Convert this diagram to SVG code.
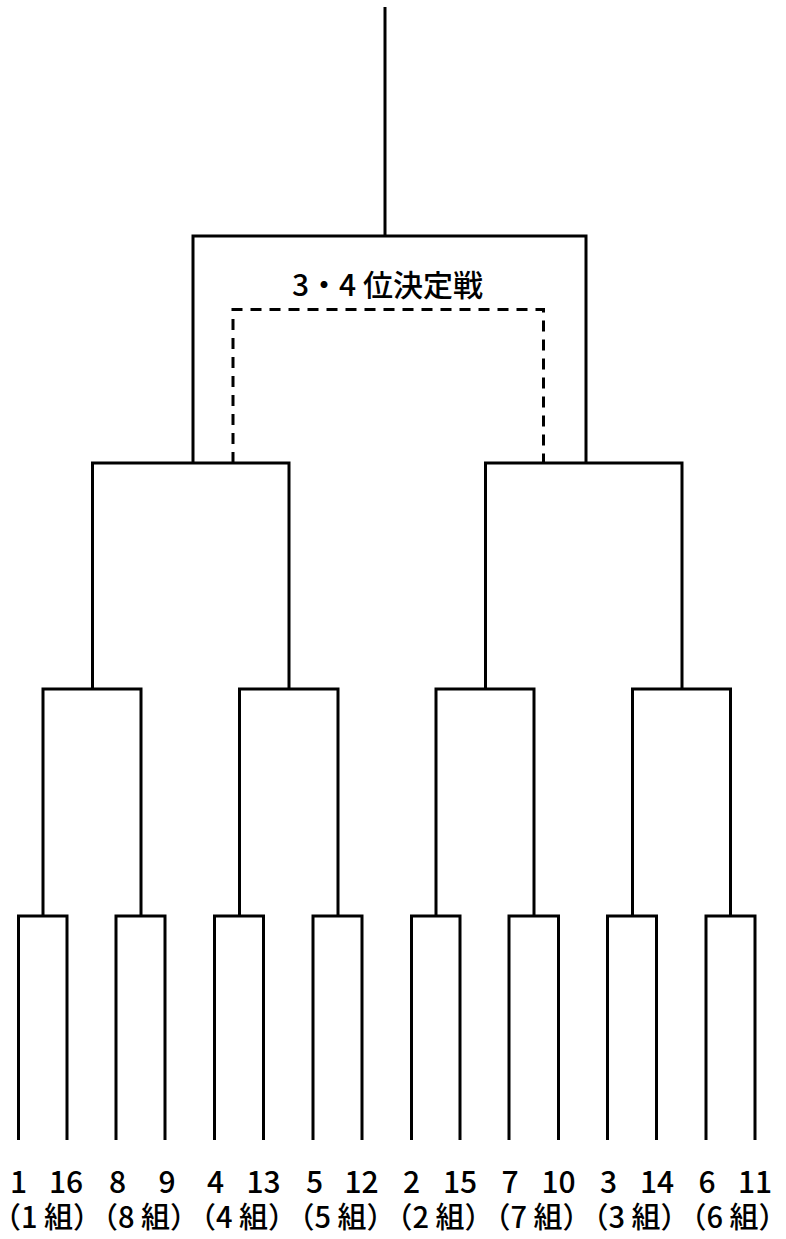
<svg xmlns="http://www.w3.org/2000/svg" width="786" height="1239" viewBox="0 0 786 1239">
<style>
.ln{fill:none;stroke:#000;stroke-width:3;stroke-linejoin:miter;stroke-linecap:butt}
.dash{fill:none;stroke:#000;stroke-width:3;stroke-dasharray:11 8}
text{font-family:"Noto Sans CJK JP","Noto Sans",sans-serif;font-weight:500;fill:#000;text-anchor:middle}
.num{font-size:30px}
.grp{font-size:29px}
.ttl{font-size:30px}
</style>
<rect width="786" height="1239" fill="#fff"/>
<g id="connectors">
<path class="ln" d="M385,7 V236"/>
<path class="ln" d="M193,463 V236 H586 V463"/>
<path class="ln" d="M92.5,689 V463 H289 V689"/>
<path class="ln" d="M485.5,689 V463 H682 V689"/>
<path class="ln" d="M43,916 V689 H141 V916"/>
<path class="ln" d="M239.5,916 V689 H338 V916"/>
<path class="ln" d="M436,916 V689 H534 V916"/>
<path class="ln" d="M632.5,916 V689 H730.5 V916"/>
<path class="ln" d="M18.5,1140 V916 H67 V1140"/>
<path class="ln" d="M116,1140 V916 H165 V1140"/>
<path class="ln" d="M214.5,1140 V916 H263.5 V1140"/>
<path class="ln" d="M313,1140 V916 H362 V1140"/>
<path class="ln" d="M411.5,1140 V916 H460 V1140"/>
<path class="ln" d="M509,1140 V916 H558.5 V1140"/>
<path class="ln" d="M607.5,1140 V916 H656.5 V1140"/>
<path class="ln" d="M706,1140 V916 H755 V1140"/>
<path class="dash" d="M233,463 V309.5 H543.5 V463"/>
</g>
<g id="title"><text class="ttl" x="387.5" y="296">3・4 位決定戦</text></g>
<g id="group1"><text class="num" x="18.5" y="1193">1</text><text class="num" x="66" y="1193">16</text><text class="grp" x="47" y="1228">（1 組）</text></g>
<g id="group8"><text class="num" x="117.5" y="1193">8</text><text class="num" x="167" y="1193">9</text><text class="grp" x="144" y="1228">（8 組）</text></g>
<g id="group4"><text class="num" x="215.5" y="1193">4</text><text class="num" x="263.5" y="1193">13</text><text class="grp" x="242" y="1228">（4 組）</text></g>
<g id="group5"><text class="num" x="314.5" y="1193">5</text><text class="num" x="361.5" y="1193">12</text><text class="grp" x="340.5" y="1228">（5 組）</text></g>
<g id="group2"><text class="num" x="411.5" y="1193">2</text><text class="num" x="460" y="1193">15</text><text class="grp" x="438.5" y="1228">（2 組）</text></g>
<g id="group7"><text class="num" x="510" y="1193">7</text><text class="num" x="558.5" y="1193">10</text><text class="grp" x="536.5" y="1228">（7 組）</text></g>
<g id="group3"><text class="num" x="608.5" y="1193">3</text><text class="num" x="657" y="1193">14</text><text class="grp" x="634.5" y="1228">（3 組）</text></g>
<g id="group6"><text class="num" x="707" y="1193">6</text><text class="num" x="755" y="1193">11</text><text class="grp" x="732.5" y="1228">（6 組）</text></g>
</svg>
